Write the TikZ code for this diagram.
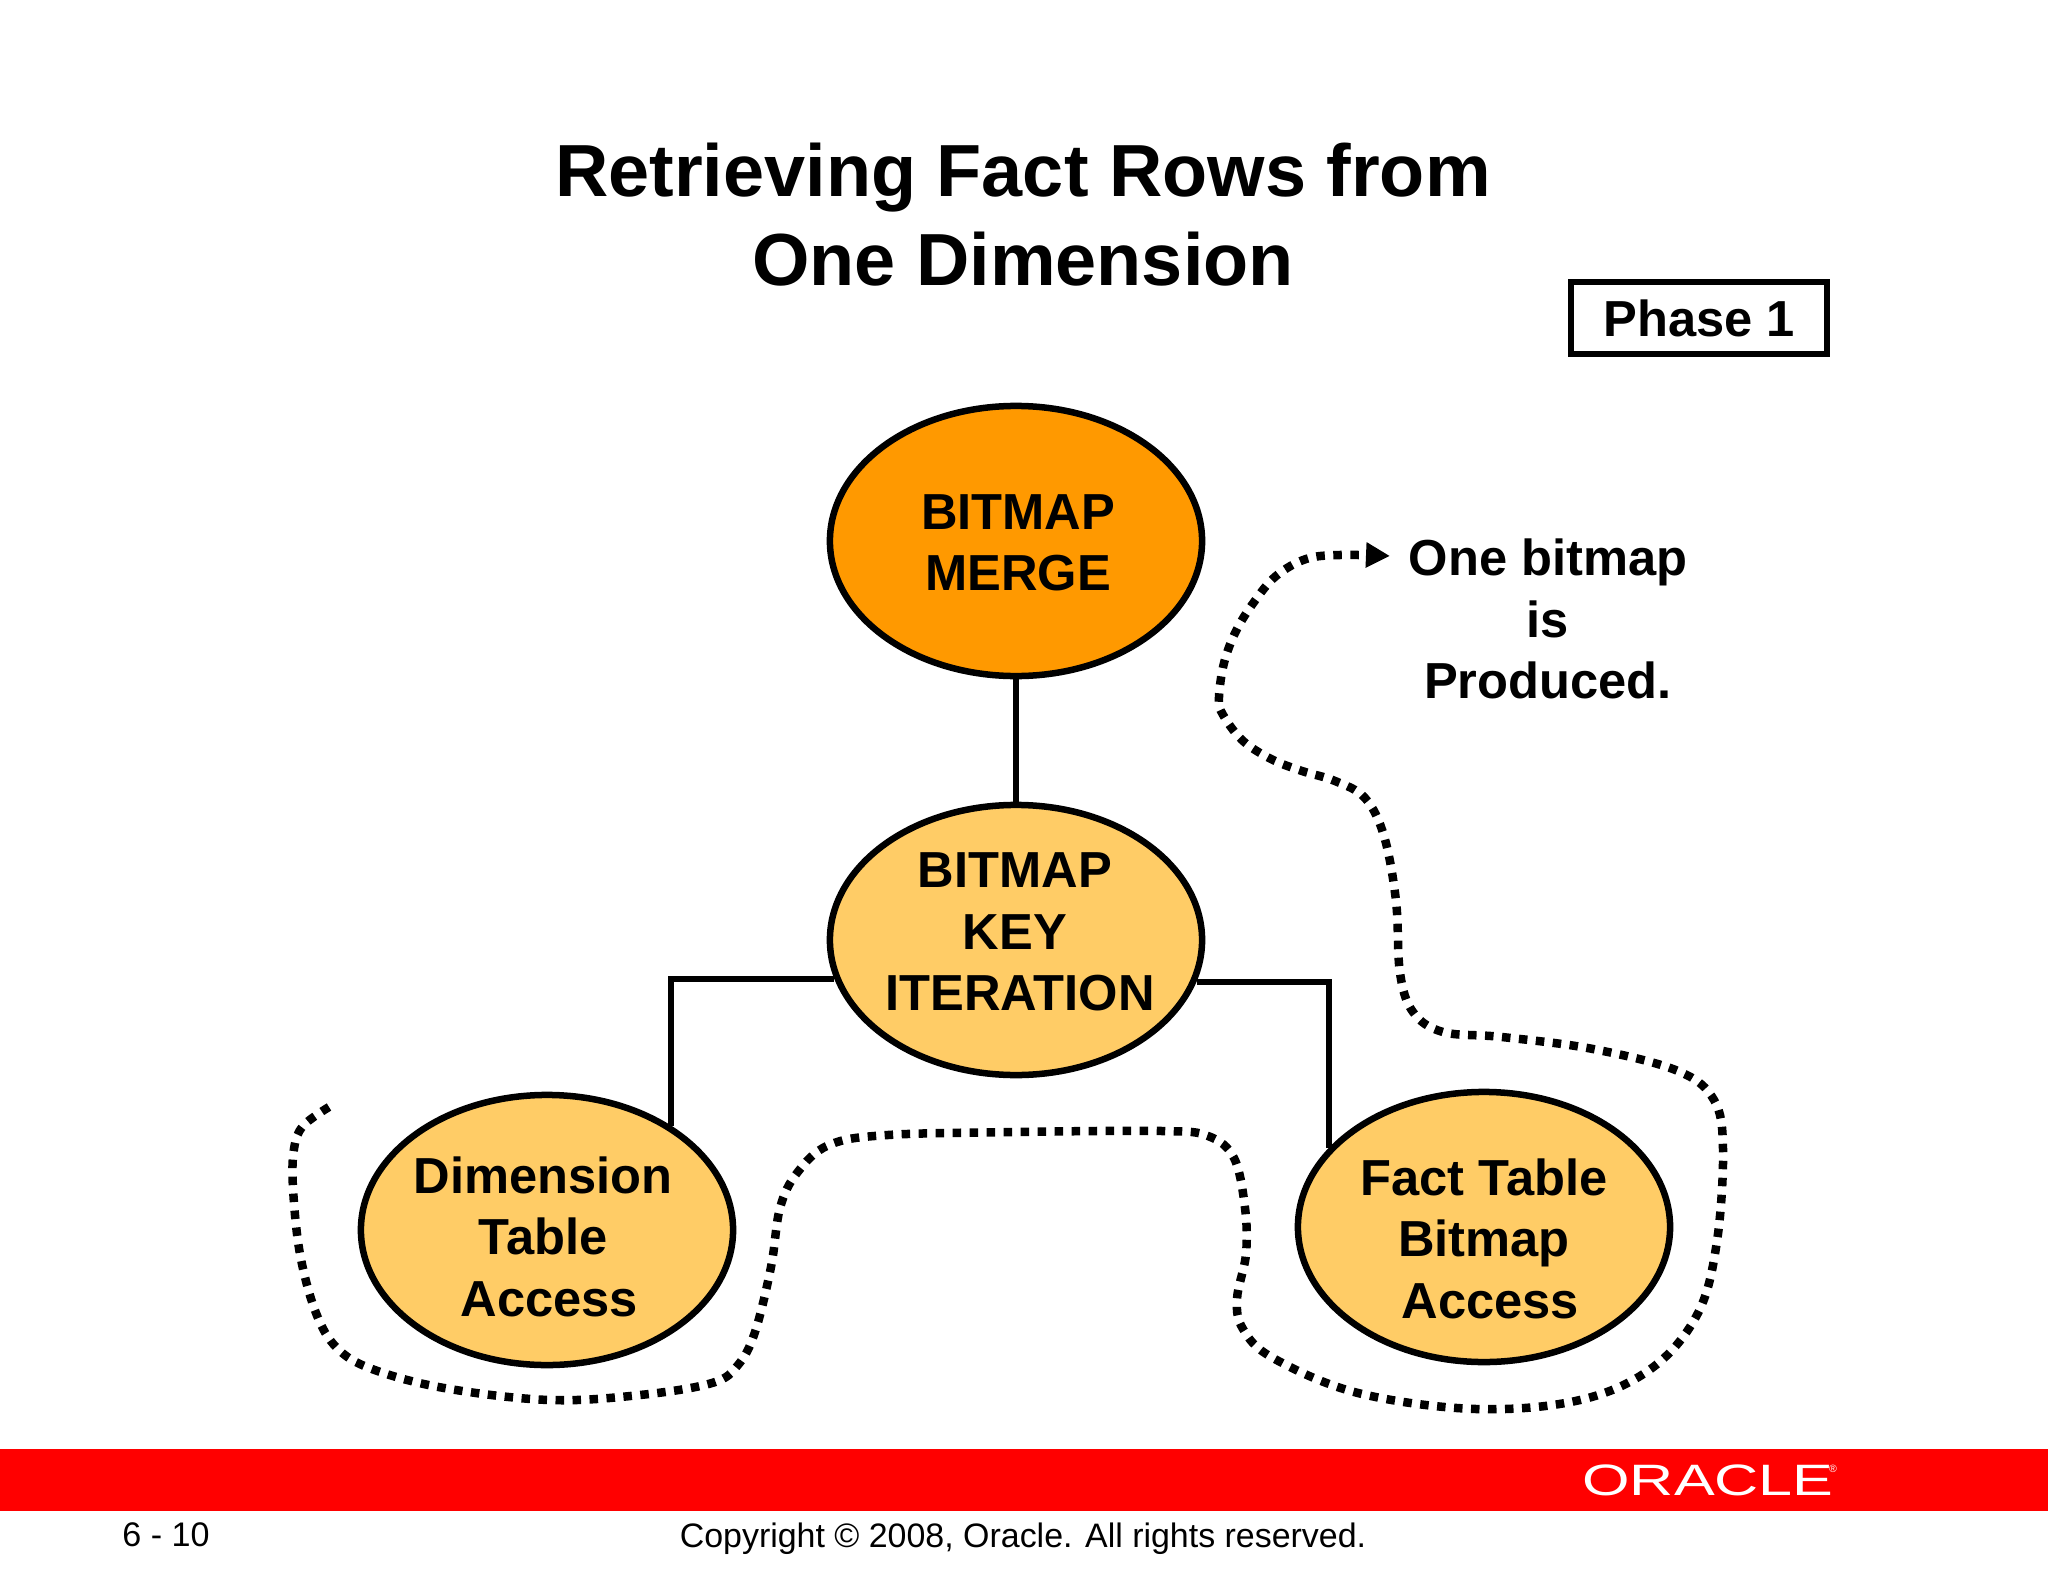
\documentclass[tikz,border=0pt]{standalone}
\usepackage{fontspec}
\setmainfont{Liberation Sans}
\usetikzlibrary{shapes.geometric,arrows.meta}

\definecolor{mergeorange}{HTML}{FF9900}
\definecolor{accesssand}{HTML}{FFCC66}
\definecolor{barred}{HTML}{FF0000}

\newcommand{\bubblelines}[3]{\makebox[0pt]{\hspace*{#1}\smash{\raisebox{#2}{\begin{tabular}{@{}c@{}}#3\end{tabular}}}}}

\tikzset{
	bubble/.style={ellipse, draw=black, line width=6.5*0.2845pt, inner sep=0pt,
		minimum width=372*0.2845pt, minimum height=270*0.2845pt,
		font=\fontsize{14.4}{17.5}\selectfont\bfseries},
	wire/.style={line width=6*0.2845pt},
	trail/.style={line width=8.5*0.2845pt, dash pattern=on 8.5*0.2845pt off 8.5*0.2845pt,
		-{Triangle[length=24*0.2845pt,width=24*0.2845pt,sep=0pt]}}
}

\begin{document}
\begin{tikzpicture}[x=0.01cm, y=-0.01cm]
\useasboundingbox (0,0) rectangle (2048,1582);

% Title
\node[align=center, font=\fontsize{21}{25.3}\selectfont\bfseries] (Title) at (1023,215)
	{Retrieving Fact Rows from\\One Dimension};

% Phase box
\node[draw=black, line width=6*0.2845pt, minimum width=256*0.2845pt, minimum height=71*0.2845pt,
	inner sep=0pt, font=\fontsize{14.4}{17.5}\selectfont\bfseries] (Phase) at (1699,318) {Phase 1};

% Ellipses
\node[bubble, fill=mergeorange] (Merge) at (1016,541) {\bubblelines{1.2pt}{-5.46pt}{BITMAP\\MERGE}};
\node[bubble, fill=accesssand] (Key) at (1016,940)
	{\bubblelines{-0.7pt}{-2.68pt}{BITMAP\\KEY\\\hspace*{3pt}ITERATION}};
\node[bubble, fill=accesssand] (Dimension) at (547,1230)
	{\bubblelines{-2.2pt}{-7.13pt}{Dimension\\Table\\\hspace*{3.5pt}Access}};
\node[bubble, fill=accesssand] (Fact) at (1484,1227)
	{\bubblelines{0pt}{-8.62pt}{Fact Table\\Bitmap\\\hspace*{3.5pt}Access}};

% Connect ellipses
\draw[wire] (Merge) -- (Key);
\draw[wire] (Key.192) -| (Dimension.40);
\draw[wire] (Key.-13) -| (Fact.153);

% Note
\node[align=center, font=\fontsize{14.4}{17.5}\selectfont\bfseries] (Note) at (1548,619)
	{One bitmap\\is\\Produced.};

% Dotted trail
\draw[trail] plot[smooth, tension=0.6] coordinates {
	(329,1107) (303,1126) (294,1149) (293,1188) (300,1254) (316,1313) (337,1348) (372,1369)
	(444,1388) (549,1400) (640,1395) (712,1383) (738,1365) (755,1332) (771,1267) (780,1208)
	(797,1173) (829,1145) (888,1135) (1019,1132) (1162,1131) (1208,1136) (1234,1158) (1245,1208)
	(1246,1254) (1237,1299) (1243,1329) (1273,1358) (1358,1393) (1476,1409) (1580,1400) (1652,1368)
	(1698,1313) (1717,1241) (1723,1149) (1714,1100) (1678,1071) (1593,1049) (1502,1037) (1443,1032)
	(1413,1012) (1400,973) (1396,901) (1384,836) (1365,798) (1335,781) (1302,771) (1271,759)
	(1242,740) (1222,713) (1219,697) (1224,663) (1236,631) (1254,602) (1276,576) (1306,559)
	(1340,555) (1390,556)};

% Red bar
\node[fill=barred, minimum width=2048*0.2845pt, minimum height=61*0.2845pt, inner sep=0pt,
	outer sep=0pt] (Bar) at (1024,1480) {};
\node[text=white, inner sep=0pt, font=\fontsize{12.5}{14}\selectfont] (Oracle) at (1708,1480)
	{\scalebox{1.39}[1]{ORACLE}};
\node[text=white, inner sep=0pt, font=\fontsize{3}{3}\selectfont] (OracleMark) at (1833,1469) {®};

% Footer
\node[font=\fontsize{9.7}{12}\selectfont] (Page) at (166,1535) {6 - 10};
\node[font=\fontsize{9.65}{12}\selectfont] (Copyright) at (1023,1539)
	{Copyright © 2008, Oracle. All rights reserved.};

\end{tikzpicture}
\end{document}
